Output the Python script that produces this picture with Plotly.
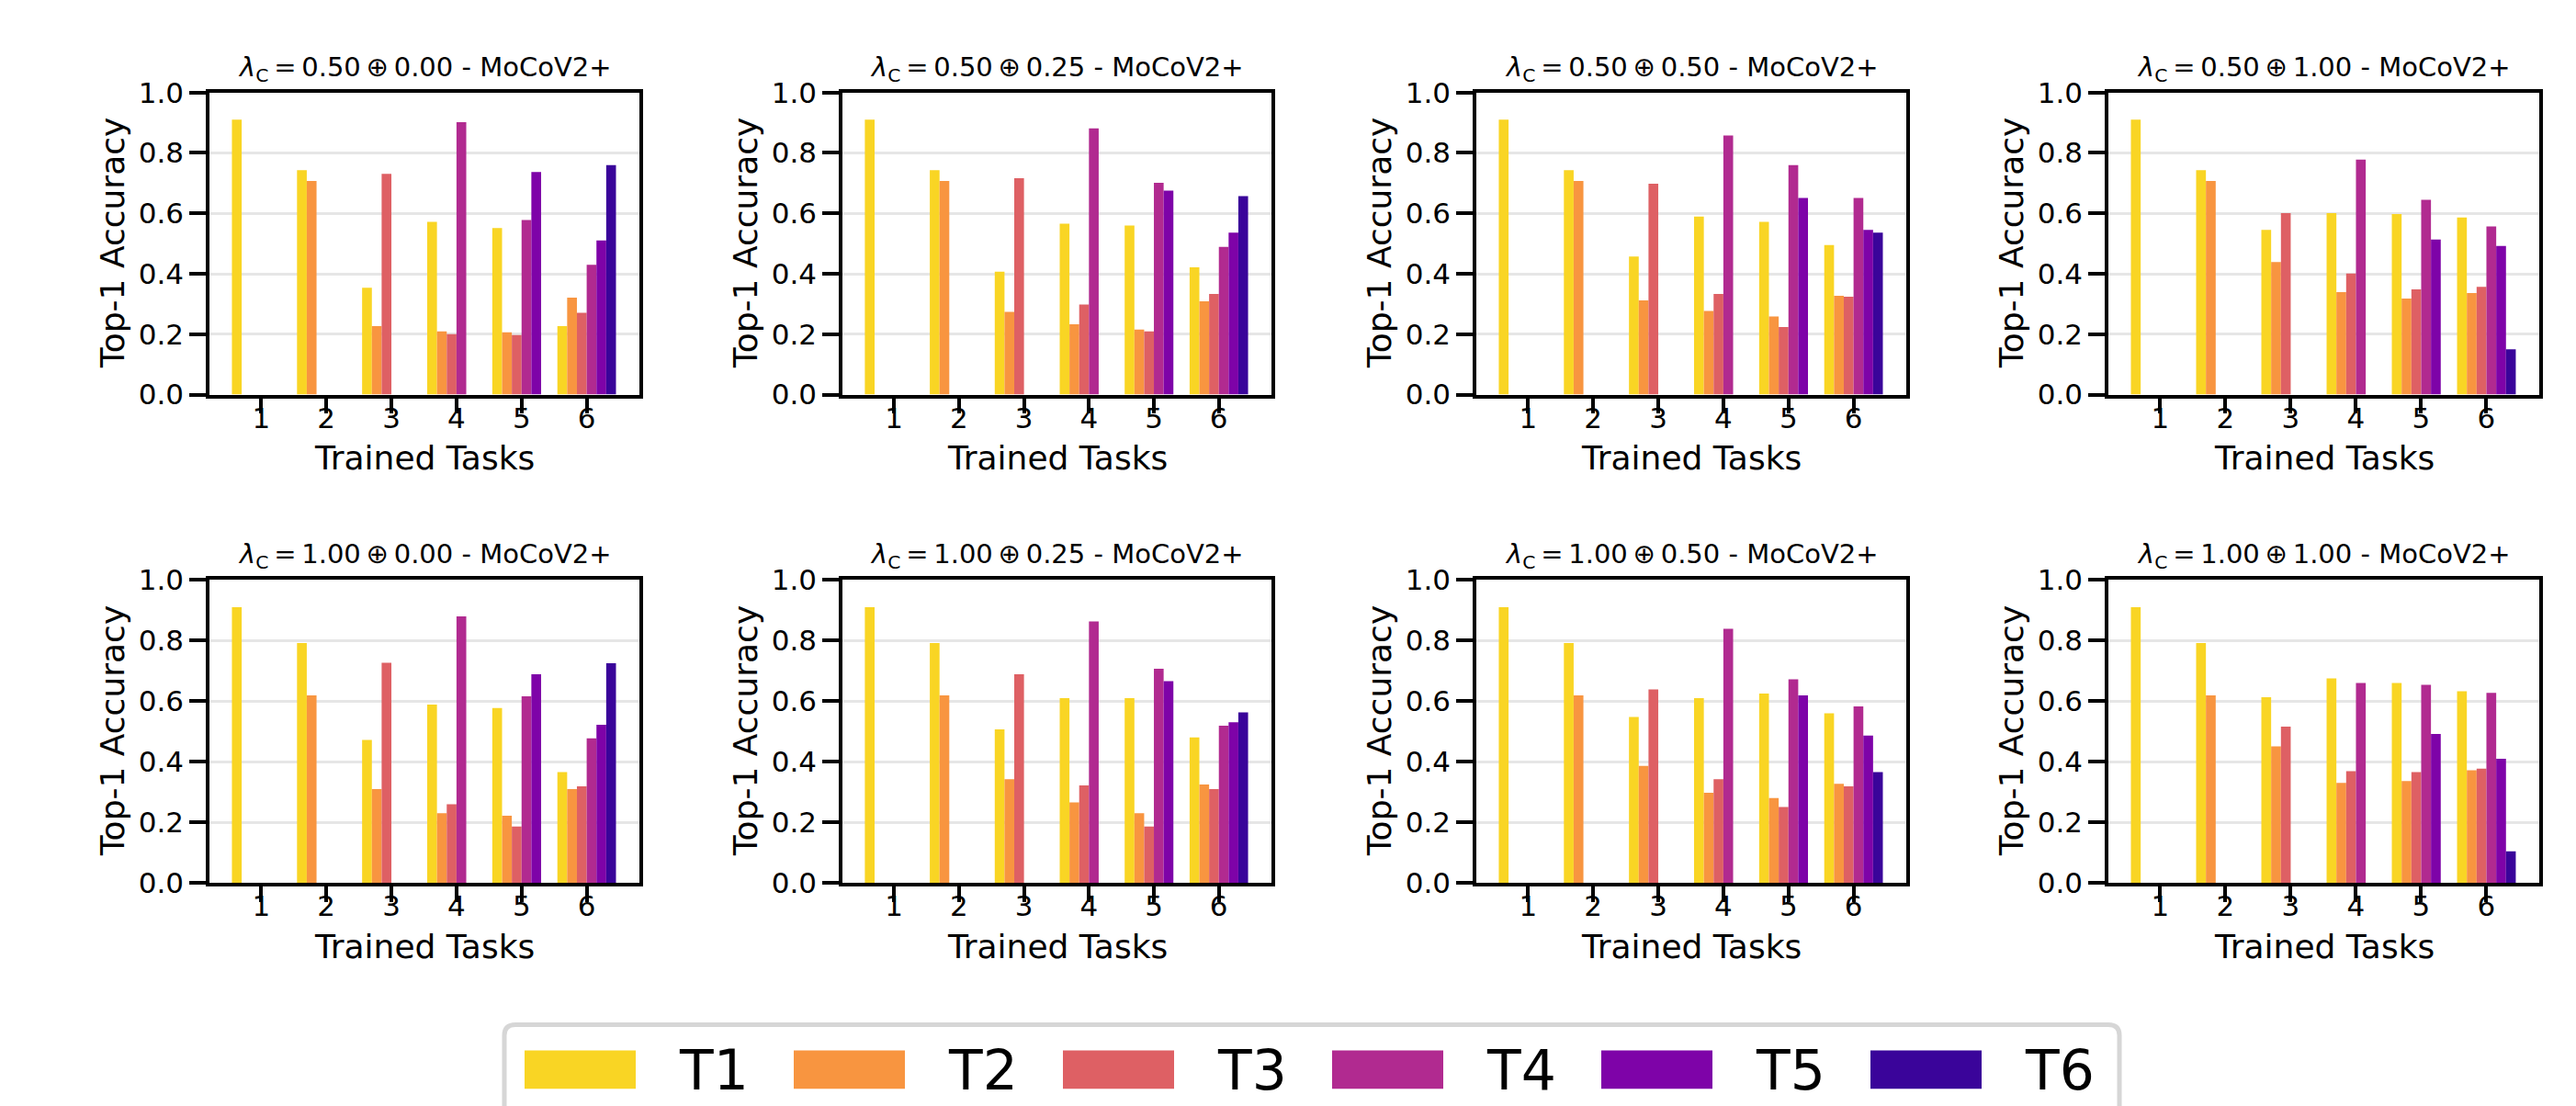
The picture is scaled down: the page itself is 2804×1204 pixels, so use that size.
import plotly.graph_objects as go

W, H = 2804, 1204

# ---------------- data ----------------
TASKS = [1, 2, 3, 4, 5, 6]
SERIES = ["T1", "T2", "T3", "T4", "T5", "T6"]
COLORS = ["#f9d524", "#f89540", "#de6064", "#b12a90", "#7e03a8", "#3a049a"]

TS = "\u2009"
PANEL_TITLES = [
    f"<i>λ</i><sub>C</sub>{TS}={TS}0.50{TS}⊕{TS}0.00 - MoCoV2+",
    f"<i>λ</i><sub>C</sub>{TS}={TS}0.50{TS}⊕{TS}0.25 - MoCoV2+",
    f"<i>λ</i><sub>C</sub>{TS}={TS}0.50{TS}⊕{TS}0.50 - MoCoV2+",
    f"<i>λ</i><sub>C</sub>{TS}={TS}0.50{TS}⊕{TS}1.00 - MoCoV2+",
    f"<i>λ</i><sub>C</sub>{TS}={TS}1.00{TS}⊕{TS}0.00 - MoCoV2+",
    f"<i>λ</i><sub>C</sub>{TS}={TS}1.00{TS}⊕{TS}0.25 - MoCoV2+",
    f"<i>λ</i><sub>C</sub>{TS}={TS}1.00{TS}⊕{TS}0.50 - MoCoV2+",
    f"<i>λ</i><sub>C</sub>{TS}={TS}1.00{TS}⊕{TS}1.00 - MoCoV2+",
]

# each row: accuracies on T1..Tk after training task k
acc_050_000 = [
    [0.910],
    [0.743, 0.707],
    [0.354, 0.227, 0.731],
    [0.572, 0.209, 0.200, 0.902],
    [0.551, 0.206, 0.197, 0.578, 0.737],
    [0.227, 0.321, 0.271, 0.430, 0.510, 0.760],
]
acc_050_025 = [
    [0.910],
    [0.743, 0.707],
    [0.407, 0.274, 0.716],
    [0.566, 0.233, 0.298, 0.881],
    [0.560, 0.215, 0.209, 0.701, 0.675],
    [0.421, 0.309, 0.333, 0.489, 0.536, 0.657],
]
acc_050_050 = [
    [0.910],
    [0.743, 0.707],
    [0.457, 0.312, 0.698],
    [0.589, 0.277, 0.333, 0.858],
    [0.572, 0.259, 0.224, 0.760, 0.651],
    [0.495, 0.327, 0.324, 0.651, 0.545, 0.536],
]
acc_050_100 = [
    [0.910],
    [0.743, 0.707],
    [0.545, 0.439, 0.601],
    [0.601, 0.339, 0.401, 0.778],
    [0.598, 0.318, 0.348, 0.645, 0.513],
    [0.586, 0.336, 0.357, 0.557, 0.492, 0.150],
]
acc_100_000 = [
    [0.910],
    [0.792, 0.619],
    [0.472, 0.310, 0.727],
    [0.589, 0.230, 0.260, 0.880],
    [0.577, 0.222, 0.186, 0.616, 0.689],
    [0.366, 0.310, 0.319, 0.477, 0.522, 0.725],
]
acc_100_025 = [
    [0.910],
    [0.792, 0.619],
    [0.507, 0.342, 0.689],
    [0.610, 0.266, 0.322, 0.863],
    [0.610, 0.230, 0.186, 0.707, 0.666],
    [0.480, 0.325, 0.310, 0.519, 0.530, 0.563],
]
acc_100_050 = [
    [0.910],
    [0.792, 0.619],
    [0.548, 0.386, 0.639],
    [0.610, 0.298, 0.342, 0.839],
    [0.625, 0.280, 0.251, 0.672, 0.619],
    [0.560, 0.327, 0.319, 0.583, 0.486, 0.366],
]
acc_100_100 = [
    [0.910],
    [0.792, 0.619],
    [0.613, 0.451, 0.516],
    [0.675, 0.330, 0.369, 0.660],
    [0.660, 0.336, 0.366, 0.654, 0.492],
    [0.633, 0.372, 0.377, 0.627, 0.410, 0.104],
]

PANELS = [acc_050_000, acc_050_025, acc_050_050, acc_050_100,
          acc_100_000, acc_100_025, acc_100_050, acc_100_100]

Y_TICKS = [0.0, 0.2, 0.4, 0.6, 0.8, 1.0]

# ---------------- layout constants (pixels) ----------------
COL_PX = [(220, 688), (909, 1376), (1599, 2067), (2287, 2756)]
ROW_PX = [(77, 416), (624, 964)]
FONT = "DejaVu Sans"


def fx(x):
    return x / W


def fy(y):
    return 1 - y / H


fig = go.Figure()
annotations = []
shapes = []
layout = {}

for p, rows in enumerate(PANELS):
    r, c = divmod(p, 4)
    n = p + 1
    xn = "x" if n == 1 else f"x{n}"
    yn = "y" if n == 1 else f"y{n}"
    xk = "xaxis" if n == 1 else f"xaxis{n}"
    yk = "yaxis" if n == 1 else f"yaxis{n}"
    for j, name in enumerate(SERIES):
        xs = [TASKS[k] for k, row in enumerate(rows) if len(row) > j]
        ys = [row[j] for row in rows if len(row) > j]
        fig.add_trace(go.Bar(x=xs, y=ys, name=name, marker_color=COLORS[j],
                             marker_line_width=0, xaxis=xn, yaxis=yn,
                             showlegend=False))
    x0, x1 = COL_PX[c]
    y0, y1 = ROW_PX[r]
    layout[xk] = dict(domain=[fx(x0), fx(x1)], anchor=yn, range=[0.205, 6.81],
                      tickvals=TASKS, ticks="outside", ticklen=17, tickwidth=3.5,
                      tickcolor="black", showline=True, linewidth=3.5,
                      linecolor="black", mirror=True, showgrid=False,
                      zeroline=False, ticklabelstandoff=-22,
                      tickfont=dict(size=31, color="black", family=FONT))
    layout[yk] = dict(domain=[fy(y1), fy(y0)], anchor=xn, range=[0, 1],
                      tickvals=Y_TICKS, tickformat=".1f", ticks="outside",
                      ticklen=18, tickwidth=3.5, tickcolor="black", showline=True,
                      linewidth=3.5, linecolor="black", mirror=True, showgrid=True,
                      gridcolor="#e6e6e6", gridwidth=3, zeroline=False,
                      tickfont=dict(size=31, color="black", family=FONT))
    cx = (x0 + x1) / 2
    annotations.append(dict(text=PANEL_TITLES[p], x=fx(cx), y=fy(y0 - 5),
                            xref="paper", yref="paper", xanchor="center",
                            yanchor="bottom", showarrow=False,
                            font=dict(size=29, color="black", family=FONT)))
    annotations.append(dict(text="Trained Tasks", x=fx(cx), y=fy(y1 + 71),
                            xref="paper", yref="paper", xanchor="center",
                            yanchor="middle", showarrow=False,
                            font=dict(size=36, color="black", family=FONT)))
    annotations.append(dict(text="Top-1 Accuracy", x=fx(x0 - 106), y=fy((y0 + y1) / 2),
                            xref="paper", yref="paper", xanchor="center",
                            yanchor="middle", textangle=-90, showarrow=False,
                            font=dict(size=36, color="black", family=FONT)))

# ---------------- custom legend ----------------
LX0, LX1, LY0, LY1, R = 541, 2299, 1123, 1260, 12
path = (f"M {fx(LX0 + R)},{fy(LY0)} L {fx(LX1 - R)},{fy(LY0)} "
        f"Q {fx(LX1)},{fy(LY0)} {fx(LX1)},{fy(LY0 + R)} "
        f"L {fx(LX1)},{fy(LY1)} L {fx(LX0)},{fy(LY1)} L {fx(LX0)},{fy(LY0 + R)} "
        f"Q {fx(LX0)},{fy(LY0)} {fx(LX0 + R)},{fy(LY0)} Z")
shapes.append(dict(type="path", path=path, xref="paper", yref="paper",
                   fillcolor="white", line=dict(color="#d6d6d6", width=5)))
for i, name in enumerate(SERIES):
    sx = 563 + i * 293
    shapes.append(dict(type="rect", xref="paper", yref="paper",
                       x0=fx(sx), x1=fx(sx + 121), y0=fy(1195), y1=fy(1152),
                       fillcolor=COLORS[i], line=dict(width=0)))
    annotations.append(dict(text=name, x=fx(sx + 166), y=fy(1174), xref="paper",
                            yref="paper", xanchor="left", yanchor="middle",
                            showarrow=False,
                            font=dict(size=60, color="black", family=FONT)))

fig.update_layout(
    width=W, height=H, margin=dict(l=0, r=0, t=0, b=0),
    paper_bgcolor="white", plot_bgcolor="white",
    barmode="group", bargap=0.1, bargroupgap=0,
    font=dict(family=FONT, color="black"),
    annotations=annotations, shapes=shapes, showlegend=False,
    **layout,
)

fig.write_html("out.html")
